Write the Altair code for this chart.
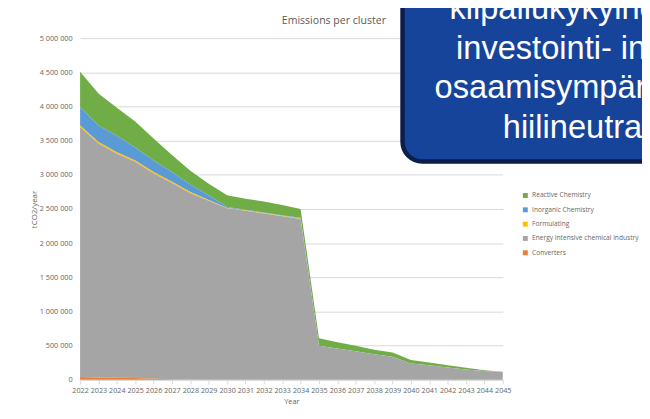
import altair as alt
import pandas as pd

years = list(range(2022, 2046))
reactive = [520000, 470000, 410000, 380000, 320000, 250000, 200000, 170000,
            170000, 160000, 160000, 150000, 130000,
            110000, 93000, 80000, 65000, 64000,
            50000, 39000, 35000, 25000, 14000, 0]
inorganic = [270000, 240000, 240000, 190000, 170000, 140000, 110000, 70000,
             15000, 10000, 10000, 10000, 10000] + [0] * 11
formulating = [20000] * 7 + [10000, 5000, 5000, 5000, 5000, 5000] + [0] * 11
energy = [3660000, 3425000, 3280000, 3165000, 3005000, 2870000, 2725000, 2620000,
          2510000, 2475000, 2435000, 2395000, 2355000,
          500000, 457000, 420000, 375000, 336000,
          240000, 215000, 180000, 152000, 128000, 119000]
converters = [40000, 35000, 30000, 25000, 15000, 10000, 5000] + [0] * 17

series_names = ["Reactive Chemistry", "Inorganic Chemistry", "Formulating",
                "Energy intensive chemical industry", "Converters"]
series_colors = ["#70AD47", "#5B9BD5", "#FFC000", "#A5A5A5", "#ED7D31"]
series_values = [reactive, inorganic, formulating, energy, converters]
y_ticks = list(range(0, 5000001, 500000))

box_lines = ["kilpailukykyine", "investointi- in", "osaamisympär", "hiilineutra"]

rows = []
for name, vals in zip(series_names, series_values):
    ord_ = 4 - series_names.index(name)
    for yr, v in zip(years, vals):
        rows.append({"year": yr, "series": name, "value": v, "ord": ord_})
df = pd.DataFrame(rows)
dummy = pd.DataFrame({"a": [0]})

FONT = "Open Sans"
GRAY = "#666666"

areas = alt.Chart(df).mark_area(interpolate="linear").encode(
    x=alt.X("year:Q", scale=alt.Scale(domain=[2022, 2045], nice=False, zero=False),
            axis=alt.Axis(values=years, format="d", labelFont=FONT, labelFontSize=7.3,
                          labelColor=GRAY, domainColor="#d9d9d9", tickColor="#d9d9d9",
                          tickSize=4, grid=False, labelPadding=3, labelFlush=False,
                          labelOverlap=False, title="Year", titleFont=FONT,
                          titleFontSize=7.5, titleFontWeight="normal", titleColor=GRAY,
                          titleX=214, titleY=22, titleBaseline="middle")),
    y=alt.Y("value:Q", stack="zero", scale=alt.Scale(domain=[0, 5000000], nice=False),
            axis=alt.Axis(values=y_ticks,
                          labelExpr="replace(replace(format(datum.value, ','), ',', ' '), ',', ' ')",
                          ticks=False, domain=False, gridColor="#d9d9d9", labelPadding=8,
                          labelFont=FONT, labelFontSize=7.4, labelColor=GRAY,
                          title="tCO2/year", titleFont=FONT, titleFontSize=8,
                          titleFontWeight="normal", titleColor=GRAY, titleAngle=270,
                          titleX=-46, titleY=173, titleBaseline="middle", titleAlign="center")),
    color=alt.Color("series:N", scale=alt.Scale(domain=series_names, range=series_colors),
                    legend=alt.Legend(title=None, orient="none", legendX=447.5, legendY=156,
                                      symbolType="square", symbolSize=25, symbolStrokeWidth=0,
                                      labelFont=FONT, labelFontSize=6.7, labelColor=GRAY,
                                      labelOffset=3.5, rowPadding=6.5)),
    order=alt.Order("ord:Q"),
)

title = alt.Chart(dummy).mark_text(text="Emissions per cluster", font=FONT, fontSize=10.7,
                                   color="#595959", align="center", baseline="middle").encode(
    x=alt.value(257), y=alt.value(-17))

box = alt.Chart(dummy).mark_rect(cornerRadius=20, fill="#16449a", stroke="#0b1d48",
                                 strokeWidth=4.5).encode(
    x=alt.value(326.5), x2=alt.value(800), y=alt.value(-80), y2=alt.value(125))

line_x = [374, 380.7, 359, 428]
line_y = [-19.3, 20.7, 60.7, 100.7]
texts = [
    alt.Chart(dummy).mark_text(text=t, font="Liberation Sans", fontSize=33, color="white",
                               align="left", baseline="alphabetic").encode(
        x=alt.value(lx), y=alt.value(ly))
    for t, lx, ly in zip(box_lines, line_x, line_y)
]

chart = alt.layer(areas, title, box, *texts).properties(
    width=428, height=346,
    padding={"left": 73, "top": 28, "right": 141, "bottom": 26},
    autosize=alt.AutoSizeParams(type="none"),
    background="white",
).configure_view(stroke=None)

chart.save("out.html", embed_options={"renderer": "svg", "actions": False})
